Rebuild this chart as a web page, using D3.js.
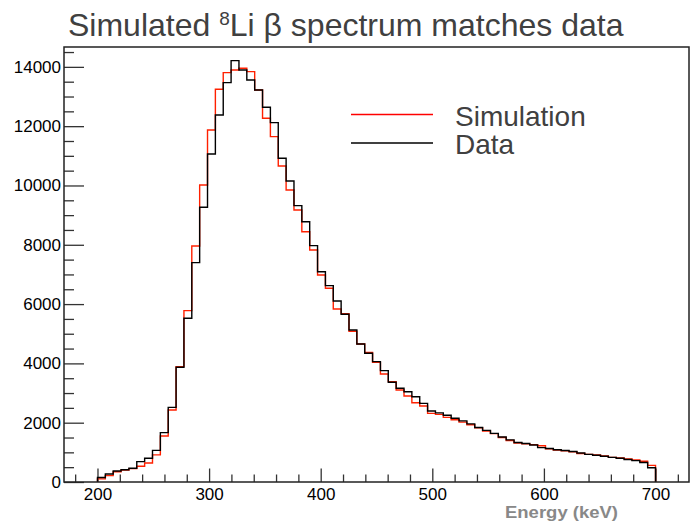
<!DOCTYPE html>
<meta charset="utf-8">
<head>
<script src="https://d3js.org/d3.v7.min.js"></script>
<style>
  body { margin: 0; background: #fff; }
  text { font-family: "Liberation Sans", Arial, Helvetica, sans-serif; }
</style>
</head>
<body>
<svg id="chart" width="690" height="524"></svg>
<script>

// histogram binning (keV)
var binLow = 200, binHigh = 700, nBins = 71;

// counts per bin
var simulation = [105, 215, 345, 405, 450, 530, 640, 915, 1551, 2428,
  3890, 5778, 7960, 10017, 11872, 13244, 13805, 13895, 13952, 13839,
  13221, 12266, 11646, 10658, 9848, 9174, 8442, 7825, 6981, 6532,
  5835, 5680, 5082, 4654, 4373, 4035, 3642, 3385, 3103, 2900,
  2675, 2563, 2316, 2280, 2180, 2100, 2020, 1930, 1830, 1720,
  1630, 1500, 1400, 1310, 1290, 1260, 1220, 1120, 1080, 1050,
  1020, 960, 930, 910, 880, 830, 810, 780, 740, 700, 560];

var data = [150, 270, 370, 415, 465, 686, 800, 1065, 1664, 2518,
  3868, 5520, 7397, 9264, 11062, 12378, 13468, 14210, 13895, 13558,
  13221, 12637, 12118, 10917, 10152, 9319, 8779, 7970, 7093, 6621,
  6105, 5655, 5126, 4654, 4340, 4058, 3755, 3362, 3160, 3046,
  2877, 2653, 2394, 2330, 2250, 2150, 2060, 1960, 1840, 1740,
  1640, 1520, 1420, 1330, 1300, 1250, 1160, 1130, 1090, 1060,
  1030, 980, 930, 900, 870, 830, 800, 760, 720, 660, 480];

var xMajor = [200, 300, 400, 500, 600, 700];
var yMajor = [0, 2000, 4000, 6000, 8000, 10000, 12000, 14000];
var legendLabels = ["Simulation", "Data"];
var legendColors = ["#ff0000", "#000000"];

var svg = d3.select("#chart");

// frame
var frameL = 64, frameR = 689, frameT = 47, frameB = 482;

var x = d3.scaleLinear().domain([170, 730]).range([frameL, frameR]);
var y = d3.scaleLinear().domain([0, 14670]).range([frameB, frameT]);

var binWidth = (binHigh - binLow) / nBins;
var edges = d3.range(nBins + 1).map(function(i) { return binLow + i * binWidth; });

// title
var title = svg.append("text")
  .attr("x", 68)
  .attr("y", 36)
  .style("font-size", "32px")
  .style("fill", "#404040");
title.append("tspan").text("Simulated ");
title.append("tspan").attr("dy", -11).style("font-size", "19px").text("8");
title.append("tspan").attr("dy", 11).text("Li \u03b2 spectrum matches data");

// minor ticks
var xMinor = d3.range(180, 730, 20).filter(function(v) { return v % 100 != 0; });
var yMinor = d3.range(500, 14670, 500).filter(function(v) { return v % 2000 != 0; });

svg.append("g")
  .attr("transform", "translate(0," + frameB + ")")
  .call(d3.axisBottom(x).tickValues(xMinor).tickSize(-7.5).tickFormat(""))
  .call(function(g) { g.select(".domain").remove(); });

svg.append("g")
  .attr("transform", "translate(" + frameL + ",0)")
  .call(d3.axisLeft(y).tickValues(yMinor).tickSize(-10).tickFormat(""))
  .call(function(g) { g.select(".domain").remove(); });

// major ticks + labels
var xAxis = svg.append("g")
  .attr("transform", "translate(0," + frameB + ")")
  .call(d3.axisBottom(x).tickValues(xMajor).tickSize(-13.5).tickPadding(6));
xAxis.select(".domain").remove();
xAxis.selectAll("text").style("font-size", "17px").style("fill", "#000");

var yAxis = svg.append("g")
  .attr("transform", "translate(" + frameL + ",0)")
  .call(d3.axisLeft(y).tickValues(yMajor).tickSize(-20).tickPadding(3).tickFormat(d3.format("d")));
yAxis.select(".domain").remove();
yAxis.selectAll("text").style("font-size", "17px").style("fill", "#000");

svg.selectAll(".tick line").attr("stroke", "#333").attr("stroke-width", 1.3);

// histograms
function stepPoints(vals) {
  var pts = [[edges[0], 0]];
  vals.forEach(function(v, i) { pts.push([edges[i], v]); });
  pts.push([edges[nBins], vals[nBins - 1]]);
  pts.push([edges[nBins], 0]);
  return pts;
}

var line = d3.line()
  .x(function(d) { return x(d[0]); })
  .y(function(d) { return y(d[1]); })
  .curve(d3.curveStepAfter);

svg.append("path")
  .attr("d", line(stepPoints(simulation)))
  .attr("fill", "none")
  .attr("stroke", "#ff2000")
  .attr("stroke-width", 1.4);

svg.append("path")
  .attr("d", line(stepPoints(data)))
  .attr("fill", "none")
  .attr("stroke", "#000")
  .attr("stroke-width", 1.4);

// frame
svg.append("rect")
  .attr("x", frameL).attr("y", frameT)
  .attr("width", frameR - frameL).attr("height", frameB - frameT)
  .attr("fill", "none")
  .attr("stroke", "#222")
  .attr("stroke-width", 1.5);

// x axis title
svg.append("text")
  .attr("x", 505)
  .attr("y", 518)
  .attr("textLength", 113)
  .attr("lengthAdjust", "spacingAndGlyphs")
  .style("font-size", "16.5px")
  .style("font-weight", "bold")
  .style("fill", "#888")
  .text("Energy (keV)");

// legend
var legend = svg.append("g");
legendLabels.forEach(function(lab, i) {
  var ly = 114.5 + i * 28.5;
  legend.append("line")
    .attr("x1", 351).attr("x2", 433)
    .attr("y1", ly).attr("y2", ly)
    .attr("stroke", legendColors[i])
    .attr("stroke-width", 1.5);
  legend.append("text")
    .attr("x", 455)
    .attr("y", ly + 11)
    .style("font-size", "28px")
    .style("fill", "#404040")
    .text(lab);
});

</script>
</body>
